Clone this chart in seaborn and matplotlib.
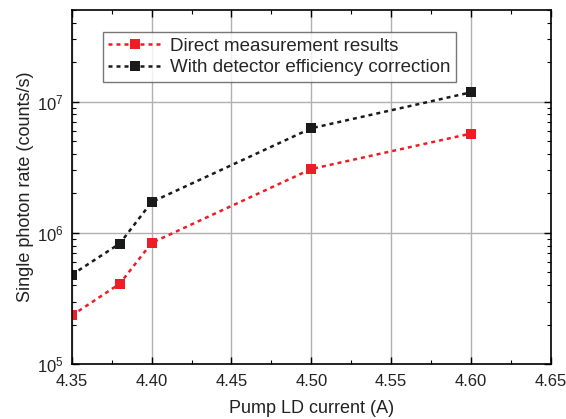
import numpy as np
import pandas as pd
import matplotlib
matplotlib.use("Agg")
import matplotlib.pyplot as plt
import seaborn as sns
from matplotlib.ticker import LogLocator, MultipleLocator

# data
current = [4.35, 4.38, 4.40, 4.50, 4.60]
direct = [2.35e5, 4.1e5, 8.4e5, 3.07e6, 5.72e6]
corrected = [4.8e5, 8.3e5, 1.72e6, 6.28e6, 1.18e7]
series_names = ["Direct measurement results", "With detector efficiency correction"]
series_colors = ["#ee1c25", "#1a1a1a"]

df = pd.DataFrame({
    "current": current * 2,
    "rate": direct + corrected,
    "series": [series_names[0]] * len(current) + [series_names[1]] * len(current),
})

sns.set_style("ticks")
plt.rcParams["font.family"] = ["Liberation Sans", "DejaVu Sans"]
plt.rcParams["mathtext.fontset"] = "custom"
plt.rcParams["mathtext.rm"] = "Liberation Sans"

fig = plt.figure(figsize=(5.66, 4.19), dpi=100)
ax = fig.add_axes([0.127, 0.131, 0.846, 0.845])

dots = (0, (1.6, 1.6))
sns.lineplot(data=df, x="current", y="rate", hue="series", palette=series_colors,
             marker="s", markersize=6.5, markeredgewidth=0, linewidth=1.8,
             dashes=False, ax=ax)
for line in ax.get_lines():
    line.set_linestyle(dots)

ax.set_yscale("log")
ax.set_xlim(4.35, 4.65)
ax.set_ylim(1e5, 5e7)
ax.xaxis.set_major_locator(MultipleLocator(0.05))
ax.xaxis.set_minor_locator(MultipleLocator(0.025))
ax.yaxis.set_major_locator(LogLocator(base=10, numticks=10))
ax.yaxis.set_minor_locator(LogLocator(base=10, subs=np.arange(2, 10), numticks=10))
ax.xaxis.set_major_formatter(plt.FuncFormatter(lambda v, p: f"{v:.2f}"))

ax.grid(True, which="major", color="#b0b0b0", linewidth=1)
ax.tick_params(which="both", direction="in", top=True, right=True, labelsize=12,
               colors="black", labelcolor="#222222")
ax.tick_params(axis="x", which="major", pad=7)
ax.tick_params(axis="y", which="major", pad=6)
ax.tick_params(which="major", length=5, width=1)
ax.tick_params(which="minor", length=3, width=0.8)
for s in ax.spines.values():
    s.set_linewidth(1.2)
    s.set_color("black")

ax.set_xlabel("Pump LD current (A)", fontsize=13, color="#222222", labelpad=8)
ax.set_ylabel("Single photon rate (counts/s)", fontsize=13, color="#222222", labelpad=2)

leg = ax.legend(loc="upper left", bbox_to_anchor=(0.045, 0.965), fontsize=13.5,
                frameon=True, fancybox=False, edgecolor="#555555",
                handlelength=2.8, borderpad=0.3, labelspacing=0.25, handletextpad=0.5)
leg.get_frame().set_linewidth(1)
for h in leg.get_lines():
    h.set_linestyle(dots)

fig.savefig("out.png", dpi=100)
